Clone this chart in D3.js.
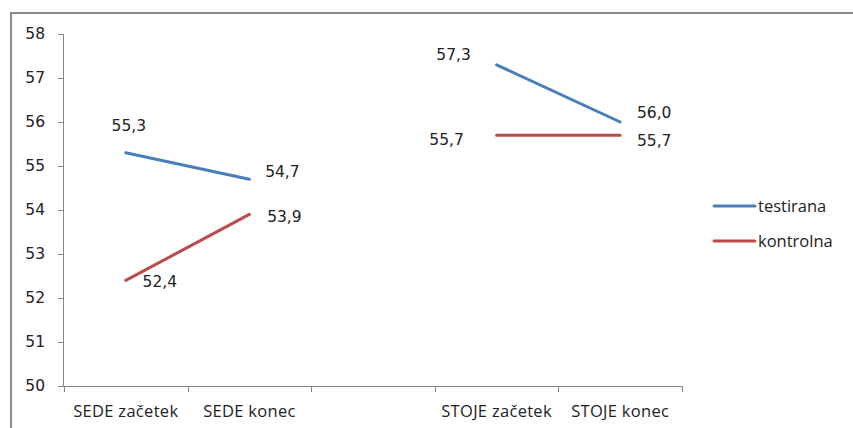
<!DOCTYPE html>
<html>
<head>
<meta charset="utf-8">
<script src="https://cdn.jsdelivr.net/npm/d3@7"></script>
<style>
  body { margin: 0; background: #fff; }
  svg { display: block; }
</style>
</head>
<body>
<svg id="chart" width="853" height="428"></svg>
<script>
// ---- data ----
const categories = ["SEDE začetek", "SEDE konec", "", "STOJE začetek", "STOJE konec"];
const testirana = [55.3, 54.7, null, 57.3, 56.0];
const kontrolna = [52.4, 53.9, null, 55.7, 55.7];
const seriesNames = ["testirana", "kontrolna"];
const yTicks = [50, 51, 52, 53, 54, 55, 56, 57, 58];

// ---- layout (label offsets from point, px) ----
const labelOffsets = {
  testirana: [[3, -27], [33, -8], null, [-43, -10], [34, -10]],
  kontrolna: [[34, 1], [35, 2], null, [-50, 4], [34, 5]]
};
const colors = { testirana: "#4A7EBB", kontrolna: "#BE4B48" };

const svg = d3.select("#chart");
const W = 853, H = 428;

// outer frame (left and top edges visible)
svg.append("line").attr("x1", 11).attr("x2", 11).attr("y1", 12).attr("y2", H)
  .attr("stroke", "#8c8c8c").attr("stroke-width", 2);
svg.append("line").attr("x1", 10).attr("x2", 853).attr("y1", 13).attr("y2", 13)
  .attr("stroke", "#8c8c8c").attr("stroke-width", 2);

const x = d3.scaleBand().domain(d3.range(categories.length)).range([64, 682]).padding(0);
const y = d3.scaleLinear().domain([50, 58]).range([386, 34]);

const axisColor = "#868686";

// y axis
const yAxis = svg.append("g").attr("transform", "translate(64,0)")
  .call(d3.axisLeft(y).tickValues(yTicks).tickSize(6).tickPadding(13).tickFormat(d3.format("d")));
yAxis.select(".domain").attr("stroke", axisColor).attr("d", `M-0.5,${y(58)}V${y(50)}`);
yAxis.selectAll(".tick line").attr("stroke", axisColor);
yAxis.selectAll(".tick text").attr("fill", "#222").style("font-family", "DejaVu Sans, Verdana, sans-serif").style("font-size", "15.5px");

// x axis
const xAxis = svg.append("g").attr("transform", `translate(0,${y(50)})`);
xAxis.append("line").attr("x1", 64).attr("x2", 682.5).attr("y1", 0.5).attr("y2", 0.5).attr("stroke", axisColor);
const boundaries = d3.range(categories.length + 1).map(i => i < categories.length ? x(i) : x(categories.length - 1) + x.bandwidth());
xAxis.selectAll("line.tk").data(boundaries).enter().append("line")
  .attr("class", "tk")
  .attr("x1", d => Math.round(d) + 0.5).attr("x2", d => Math.round(d) + 0.5)
  .attr("y1", 0).attr("y2", 6).attr("stroke", axisColor);
xAxis.selectAll("text").data(categories).enter().append("text")
  .attr("x", (d, i) => x(i) + x.bandwidth() / 2)
  .attr("y", 31)
  .attr("text-anchor", "middle")
  .attr("fill", "#222")
  .style("font-family", "'Open Sans', sans-serif")
  .style("font-size", "16.5px")
  .style("letter-spacing", "0.3px")
  .text(d => d);

// lines
const seriesData = { testirana, kontrolna };
const line = d3.line()
  .defined(d => d != null)
  .x((d, i) => x(i) + x.bandwidth() / 2)
  .y(d => y(d));

seriesNames.forEach(name => {
  const vals = seriesData[name];
  svg.append("path")
    .datum(vals)
    .attr("fill", "none")
    .attr("stroke", colors[name])
    .attr("stroke-width", 3)
    .attr("stroke-linecap", "round")
    .attr("d", line);
});

// data labels
const fmt = v => d3.format(".1f")(v).replace(".", ",");
seriesNames.forEach(name => {
  const vals = seriesData[name];
  vals.forEach((v, i) => {
    if (v == null) return;
    const off = labelOffsets[name][i];
    svg.append("text")
      .attr("x", x(i) + x.bandwidth() / 2 + off[0])
      .attr("y", y(v) + off[1])
      .attr("dy", "0.36em")
      .attr("text-anchor", "middle")
      .attr("fill", "#222")
      .style("font-family", "DejaVu Sans, Verdana, sans-serif")
      .style("font-size", "15.5px")
      .text(fmt(v));
  });
});

// legend
const legend = svg.append("g");
seriesNames.forEach((name, i) => {
  const ly = 206 + i * 35;
  legend.append("line").attr("x1", 714).attr("x2", 755).attr("y1", ly).attr("y2", ly)
    .attr("stroke", colors[name]).attr("stroke-width", 3).attr("stroke-linecap", "round");
  legend.append("text").attr("x", 758).attr("y", ly).attr("dy", "0.35em")
    .attr("fill", "#222")
    .style("font-family", "'Open Sans', sans-serif")
    .style("font-size", "16.5px")
    .text(name);
});
</script>
</body>
</html>
